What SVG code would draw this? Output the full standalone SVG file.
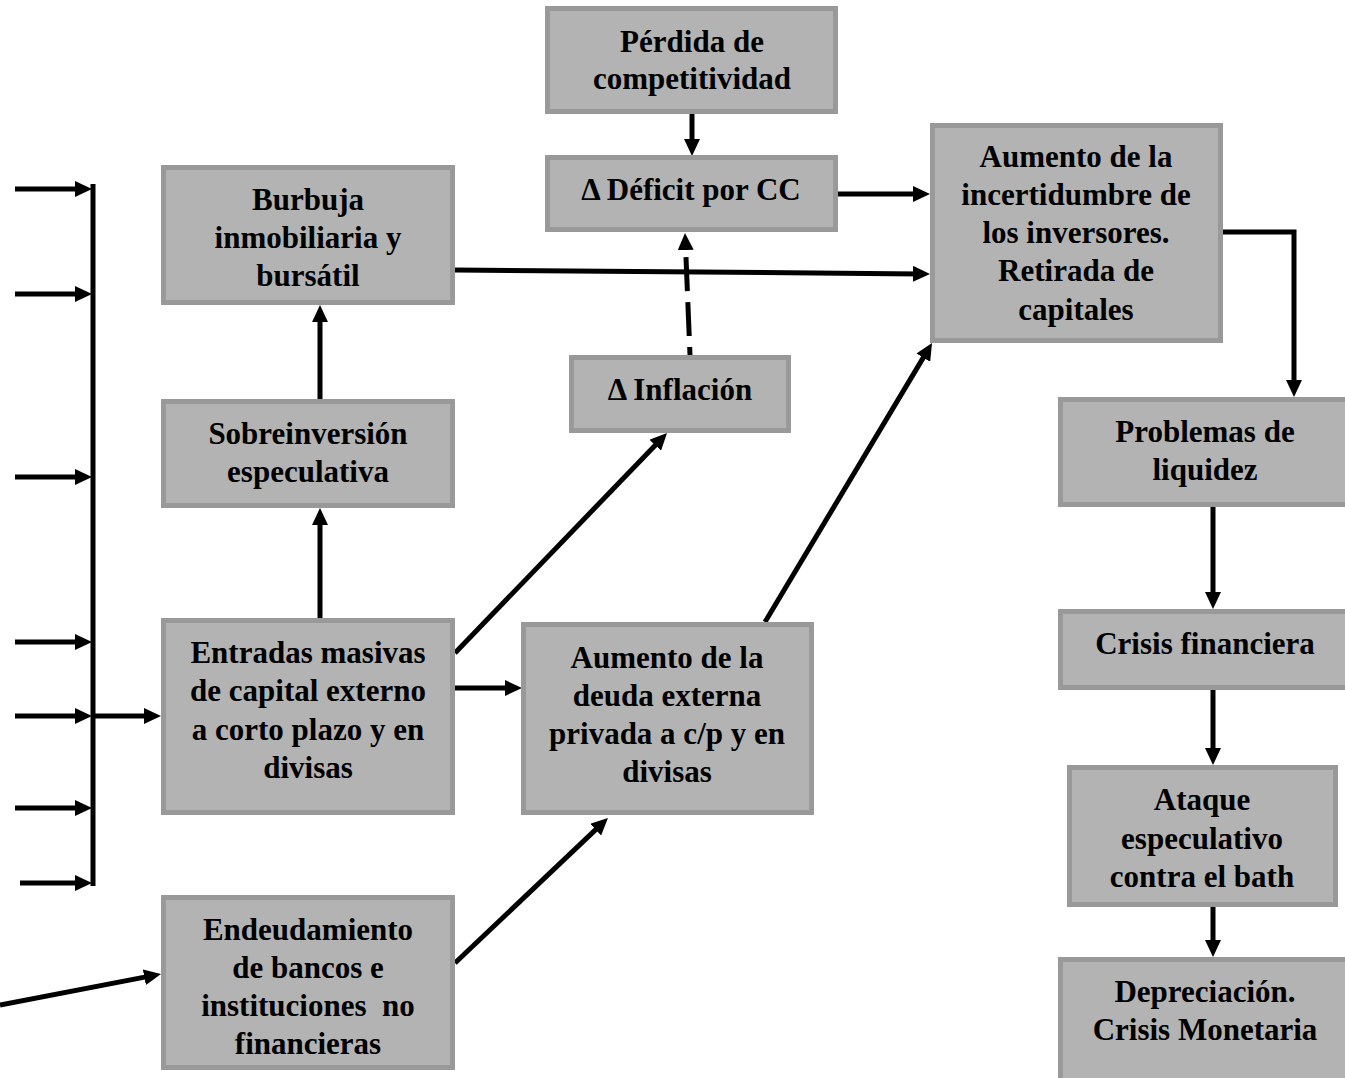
<svg xmlns="http://www.w3.org/2000/svg" width="1345" height="1078" viewBox="0 0 1345 1078">
<style>
.box{fill:#b3b3b3;stroke:#999999;stroke-width:5}
.t{font-family:'Liberation Serif',serif;font-weight:700;font-size:31px;fill:#000;text-anchor:middle}
.c{stroke:#000;stroke-width:5;fill:none}
.a{marker-end:url(#ah)}
.d{stroke-dasharray:34 11;stroke-dashoffset:26}
</style>
<defs>
<marker id="ah" viewBox="0 0 17 16" refX="7" refY="8" markerWidth="17" markerHeight="16" markerUnits="userSpaceOnUse" orient="auto">
<path d="M0,0 L17,8 L0,16 z" fill="#000"/>
</marker>
</defs>
<rect width="1345" height="1078" fill="#fff"/>
<g id="connectors">
<line class="c a" x1="692" y1="114" x2="692" y2="146"/>
<line class="c a" x1="838" y1="194" x2="920" y2="194"/>
<line class="c a" x1="455" y1="270" x2="920" y2="273.9"/>
<line class="c a" x1="320" y1="399" x2="320" y2="315"/>
<line class="c a" x1="320" y1="618" x2="320" y2="518"/>
<line class="c a d" x1="690" y1="355" x2="685.4" y2="243"/>
<line class="c a" x1="455" y1="653" x2="660.1" y2="440.2"/>
<line class="c a" x1="455" y1="688" x2="512" y2="688"/>
<line class="c a" x1="765" y1="622" x2="926.9" y2="351.6"/>
<line class="c a" x1="455" y1="963" x2="600.7" y2="824.9"/>
<polyline class="c a" points="1222,232 1294,232 1294,387"/>
<line class="c a" x1="1213" y1="507" x2="1213" y2="599"/>
<line class="c a" x1="1213" y1="690" x2="1213" y2="755"/>
<line class="c a" x1="1213" y1="907" x2="1213" y2="947"/>
<line class="c a" x1="15" y1="189" x2="82" y2="189"/>
<line class="c a" x1="15" y1="294" x2="82" y2="294"/>
<line class="c a" x1="15" y1="477" x2="82" y2="477"/>
<line class="c a" x1="15" y1="642" x2="82" y2="642"/>
<line class="c a" x1="15" y1="716" x2="82" y2="716"/>
<line class="c a" x1="15" y1="808" x2="82" y2="808"/>
<line class="c a" x1="20" y1="883" x2="82" y2="883"/>
<line class="c" x1="93" y1="184" x2="93" y2="886"/>
<line class="c a" x1="93" y1="716" x2="151" y2="716"/>
<line class="c a" x1="0" y1="1005" x2="151.2" y2="975.9"/>
</g>
<g font-family="Liberation Serif, serif" font-weight="bold">
<g id="perdida">
<rect class="box" x="547.5" y="8.5" width="288" height="103"/>
<text class="t" x="692" y="52">Pérdida de</text>
<text class="t" x="692" y="89">competitividad</text>
</g>
<g id="deficit">
<rect class="box" x="547.5" y="157.5" width="288" height="72"/>
<text class="t" x="691" y="200">Δ Déficit por CC</text>
</g>
<g id="burbuja">
<rect class="box" x="163.5" y="167.5" width="289" height="135"/>
<text class="t" x="308" y="210">Burbuja</text>
<text class="t" x="308" y="248">inmobiliaria y</text>
<text class="t" x="308" y="286">bursátil</text>
</g>
<g id="sobreinversion">
<rect class="box" x="163.5" y="401.5" width="289" height="104"/>
<text class="t" x="308" y="444">Sobreinversión</text>
<text class="t" x="308" y="482">especulativa</text>
</g>
<g id="inflacion">
<rect class="box" x="571.5" y="357.5" width="217" height="73"/>
<text class="t" x="680" y="400">Δ Inflación</text>
</g>
<g id="entradas">
<rect class="box" x="163.5" y="620.5" width="289" height="192"/>
<text class="t" x="308" y="663">Entradas masivas</text>
<text class="t" x="308" y="701">de capital externo</text>
<text class="t" x="308" y="740">a corto plazo y en</text>
<text class="t" x="308" y="778">divisas</text>
</g>
<g id="deuda">
<rect class="box" x="523.5" y="624.5" width="288" height="188"/>
<text class="t" x="667" y="668">Aumento de la</text>
<text class="t" x="667" y="706">deuda externa</text>
<text class="t" x="667" y="744">privada a c/p y en</text>
<text class="t" x="667" y="782">divisas</text>
</g>
<g id="endeudamiento">
<rect class="box" x="163.5" y="897.5" width="289" height="170"/>
<text class="t" x="308" y="940">Endeudamiento</text>
<text class="t" x="308" y="978">de bancos e</text>
<text class="t" x="308" y="1016">instituciones&#160; no</text>
<text class="t" x="308" y="1054">financieras</text>
</g>
<g id="incertidumbre">
<rect class="box" x="932.5" y="125.5" width="288" height="215"/>
<text class="t" x="1076" y="167">Aumento de la</text>
<text class="t" x="1076" y="205">incertidumbre de</text>
<text class="t" x="1076" y="243">los inversores.</text>
<text class="t" x="1076" y="281">Retirada de</text>
<text class="t" x="1076" y="320">capitales</text>
</g>
<g id="problemas">
<rect class="box" x="1060.5" y="399.5" width="295" height="105"/>
<text class="t" x="1205" y="442">Problemas de</text>
<text class="t" x="1205" y="480">liquidez</text>
</g>
<g id="crisis-financiera">
<rect class="box" x="1060.5" y="611.5" width="295" height="76"/>
<text class="t" x="1205" y="654">Crisis financiera</text>
</g>
<g id="ataque">
<rect class="box" x="1069.5" y="767.5" width="266" height="137"/>
<text class="t" x="1202" y="810">Ataque</text>
<text class="t" x="1202" y="849">especulativo</text>
<text class="t" x="1202" y="887">contra el bath</text>
</g>
<g id="depreciacion">
<rect class="box" x="1060.5" y="959.5" width="295" height="130"/>
<text class="t" x="1205" y="1002">Depreciación.</text>
<text class="t" x="1205" y="1040">Crisis Monetaria</text>
</g>
</g>
</svg>
